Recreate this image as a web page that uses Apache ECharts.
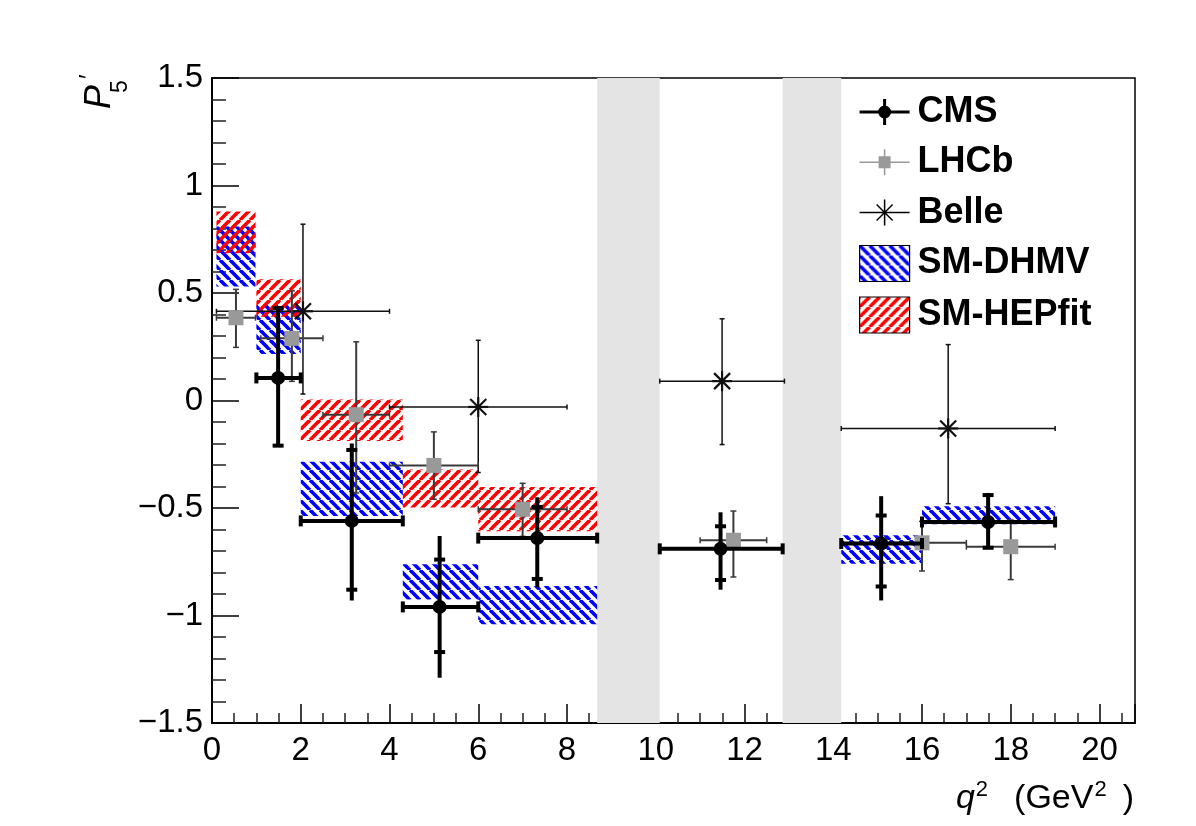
<!DOCTYPE html>
<html>
<head>
<meta charset="utf-8">
<script src="https://cdn.jsdelivr.net/npm/echarts@6/dist/echarts.min.js"></script>
<style>
  html, body { margin: 0; padding: 0; background: #fff; }
  #chart { width: 1196px; height: 826px; }
</style>
</head>
<body>
<div id="chart"></div>
<script>
// axis ranges
const xMin = 0, xMax = 20.8, yMin = -1.5, yMax = 1.5;
const xTicks = [0, 2, 4, 6, 8, 10, 12, 14, 16, 18, 20];

// resonance veto regions (grey bands)
const vetoLo = [8.68, 12.86];
const vetoHi = [10.09, 14.18];

// CMS
const cmsLo = [1, 2, 4.3, 6, 10.09, 14.18, 16];
const cmsHi = [2, 4.3, 6, 8.68, 12.86, 16, 19];
const cmsX = [1.49, 3.15, 5.13, 7.33, 11.46, 15.08, 17.49];
const cmsY = [0.105, -0.56, -0.96, -0.64, -0.69, -0.665, -0.565];
const cmsStatUp = [0.325, 0.33, 0.22, 0.145, 0.105, 0.13, 0.125];
const cmsStatDn = [0.315, 0.32, 0.21, 0.19, 0.145, 0.2, 0.12];
const cmsTotUp = [0.33, 0.36, 0.33, 0.19, 0.17, 0.22, 0.135];
const cmsTotDn = [0.32, 0.37, 0.33, 0.23, 0.19, 0.265, 0.125];

// LHCb
const lhcbLo = [0.1, 1.1, 2.5, 4, 6, 11, 15, 17];
const lhcbHi = [0.98, 2.5, 4, 6, 8, 12.5, 17, 19];
const lhcbY = [0.385, 0.289, -0.066, -0.302, -0.506, -0.65, -0.662, -0.68];
const lhcbUp = [0.132, 0.221, 0.339, 0.156, 0.121, 0.136, 0.1, 0.124];
const lhcbDn = [0.138, 0.2, 0.364, 0.157, 0.126, 0.171, 0.131, 0.153];

// Belle
const belleLo = [0.1, 4, 10.09, 14.18];
const belleHi = [4, 8, 12.9, 19];
const belleY = [0.415, -0.03, 0.09, -0.13];
const belleUp = [0.405, 0.31, 0.29, 0.39];
const belleDn = [0.385, 0.305, 0.295, 0.35];

// SM-DHMV
const dhmvLo = [0.1, 1, 2, 4.3, 6, 14.18, 16];
const dhmvHi = [0.98, 2, 4.3, 6, 8.68, 16, 19];
const dhmvMin = [0.53, 0.216, -0.537, -0.925, -1.041, -0.759, -0.576];
const dhmvMax = [0.809, 0.444, -0.285, -0.762, -0.863, -0.627, -0.492];

// SM-HEPfit
const hepLo = [0.1, 1, 2, 4.3, 6];
const hepHi = [0.98, 2, 4.3, 6, 8.68];
const hepMin = [0.685, 0.39, -0.188, -0.498, -0.608];
const hepMax = [0.879, 0.564, 0.005, -0.321, -0.402];

const FONT = '"Liberation Sans", Arial, Helvetica, sans-serif';

function hatch(color, back) {
    let c = document.createElement('canvas');
    c.width = 10;
    c.height = 10;
    let g = c.getContext('2d');
    g.strokeStyle = color;
    g.lineWidth = 3.6;
    for (let k = -10; k <= 10; k += 10) {
        g.beginPath();
        if (back) {
            g.moveTo(k, 0);
            g.lineTo(k + 10, 10);
        } else {
            g.moveTo(k, 10);
            g.lineTo(k + 10, 0);
        }
        g.stroke();
    }
    return {image: c, repeat: 'repeat'};
}

const blueHatch = hatch('#0000ff', true);
const redHatch = hatch('#ff0000', false);

function line(a, b, color, w) {
    return {type: 'line', shape: {x1: a[0], y1: a[1], x2: b[0], y2: b[1]},
        style: {stroke: color, lineWidth: w}};
}

function rect(cx, cy, w, h, color) {
    return {type: 'rect', shape: {x: cx - w / 2, y: cy - h / 2, width: w, height: h},
        style: {fill: color}};
}

function renderBand(params, api) {
    let a = api.coord([api.value(0), yMax]);
    let b = api.coord([api.value(1), yMin]);
    return {type: 'rect', shape: {x: a[0], y: a[1], width: b[0] - a[0], height: b[1] - a[1]},
        style: {fill: '#e4e4e4'}};
}

function boxRenderer(pattern) {
    return (params, api) => {
        let a = api.coord([api.value(0), api.value(3)]);
        let b = api.coord([api.value(1), api.value(2)]);
        return {type: 'rect', shape: {x: a[0], y: a[1], width: b[0] - a[0], height: b[1] - a[1]},
            style: {fill: pattern}};
    };
}

function renderCms(params, api) {
    let x = api.value(0), y = api.value(1);
    let p = api.coord([x, y]);
    let l = api.coord([api.value(2), y]);
    let r = api.coord([api.value(3), y]);
    let su = api.coord([x, y + api.value(4)]);
    let sd = api.coord([x, y - api.value(5)]);
    let tu = api.coord([x, y + api.value(6)]);
    let td = api.coord([x, y - api.value(7)]);
    return {type: 'group', children: [
        line(l, r, '#000', 4),
        line(tu, td, '#000', 4),
        rect(l[0], l[1], 4, 11, '#000'),
        rect(r[0], r[1], 4, 11, '#000'),
        rect(su[0], su[1], 11, 4, '#000'),
        rect(sd[0], sd[1], 11, 4, '#000'),
        {type: 'circle', shape: {cx: p[0], cy: p[1], r: 7}, style: {fill: '#000'}}
    ]};
}

function renderLhcb(params, api) {
    let x = (api.value(0) + api.value(1)) / 2, y = api.value(2);
    let p = api.coord([x, y]);
    let l = api.coord([api.value(0), y]);
    let r = api.coord([api.value(1), y]);
    let u = api.coord([x, y + api.value(3)]);
    let d = api.coord([x, y - api.value(4)]);
    let c = '#3a3a3a';
    return {type: 'group', children: [
        line(l, r, c, 2),
        line(u, d, c, 2),
        rect(l[0], l[1], 1.5, 6, c),
        rect(r[0], r[1], 1.5, 6, c),
        rect(u[0], u[1], 6, 1.5, c),
        rect(d[0], d[1], 6, 1.5, c),
        rect(p[0], p[1], 15, 15, '#999')
    ]};
}

function renderBelle(params, api) {
    let x = (api.value(0) + api.value(1)) / 2, y = api.value(2);
    let p = api.coord([x, y]);
    let l = api.coord([api.value(0), y]);
    let r = api.coord([api.value(1), y]);
    let u = api.coord([x, y + api.value(3)]);
    let d = api.coord([x, y - api.value(4)]);
    let c = '#111';
    let s = 10, q = 8;
    return {type: 'group', children: [
        line(l, r, c, 1.5),
        line(u, d, c, 1.5),
        rect(l[0], l[1], 1.5, 5, c),
        rect(r[0], r[1], 1.5, 5, c),
        rect(u[0], u[1], 5, 1.5, c),
        rect(d[0], d[1], 5, 1.5, c),
        line([p[0] - q, p[1] - q], [p[0] + q, p[1] + q], c, 2.2),
        line([p[0] - q, p[1] + q], [p[0] + q, p[1] - q], c, 2.2),
        line([p[0], p[1] - s], [p[0], p[1] + s], c, 2.2),
        line([p[0] - s, p[1]], [p[0] + s, p[1]], c, 2.2)
    ]};
}

function zip(...cols) {
    return cols[0].map((_, i) => cols.map(col => col[i]));
}

const ICON_CMS = 'path://M0,15.5H50V18.5H0Z M23.5,4H26.5V30H23.5Z M31.5,17A6.5,6.5,0,1,1,18.5,17A6.5,6.5,0,1,1,31.5,17Z';
const ICON_LHCB = 'path://M0,16.25H50V17.75H0Z M24.25,4H25.75V30H24.25Z M19,11H31V23H19Z';
const ICON_BELLE = 'path://M0,16.25H50V17.75H0Z M24.25,4H25.75V30H24.25Z ' +
    'M16.5,9.5L17.5,8.5L33.5,24.5L32.5,25.5Z M32.5,8.5L33.5,9.5L17.5,25.5L16.5,24.5Z';

window.onload = () => {
    let chart = echarts.init(document.getElementById('chart'));
    let option = {
        animation: false,
        backgroundColor: '#fff',
        grid: {
            left: 212, right: 61, top: 78, bottom: 103,
            show: true, borderColor: '#000', borderWidth: 1.5, backgroundColor: 'transparent'
        },
        xAxis: {
            type: 'value', min: xMin, max: xMax, interval: 2,
            axisLine: {onZero: false, lineStyle: {color: '#000', width: 2}},
            axisTick: {inside: true, length: 19, lineStyle: {color: '#000', width: 1.5}},
            minorTick: {show: true, splitNumber: 4, length: 10, lineStyle: {color: '#222', width: 1.5}},
            splitLine: {show: false},
            axisLabel: {
                margin: 11, fontSize: 33, color: '#000', fontFamily: FONT,
                formatter: v => (xTicks.indexOf(v) >= 0 ? String(v) : '')
            }
        },
        yAxis: {
            type: 'value', min: yMin, max: yMax, interval: 0.5,
            axisLine: {onZero: false, lineStyle: {color: '#000', width: 2}},
            axisTick: {inside: true, length: 27, lineStyle: {color: '#000', width: 1.5}},
            minorTick: {show: true, splitNumber: 5, length: 14, lineStyle: {color: '#222', width: 1.5}},
            splitLine: {show: false},
            axisLabel: {
                margin: 9, fontSize: 33, color: '#000', fontFamily: FONT,
                formatter: v => String(v).replace('-', '\u2212')
            }
        },
        legend: {
            orient: 'vertical', left: 859, top: 94, padding: 0,
            itemWidth: 50, itemHeight: 36, itemGap: 14.3,
            textStyle: {fontSize: 36, fontWeight: 'bold', color: '#000', fontFamily: FONT,
                lineHeight: 36, padding: [0, 0, 0, 3]},
            selectedMode: false,
            data: [
                {name: 'CMS', icon: ICON_CMS},
                {name: 'LHCb', icon: ICON_LHCB},
                {name: 'Belle', icon: ICON_BELLE},
                {name: 'SM-DHMV', icon: 'rect', itemStyle: {color: blueHatch, borderColor: '#000', borderWidth: 1.2}},
                {name: 'SM-HEPfit', icon: 'rect', itemStyle: {color: redHatch, borderColor: '#000', borderWidth: 1.2}}
            ]
        },
        series: [
            {
                name: 'veto', type: 'custom', z: 1, silent: true,
                renderItem: renderBand,
                data: zip(vetoLo, vetoHi)
            },
            {
                name: 'SM-DHMV', type: 'custom', z: 2, silent: true,
                itemStyle: {color: blueHatch},
                renderItem: boxRenderer(blueHatch),
                data: zip(dhmvLo, dhmvHi, dhmvMin, dhmvMax)
            },
            {
                name: 'SM-HEPfit', type: 'custom', z: 2, silent: true,
                itemStyle: {color: redHatch},
                renderItem: boxRenderer(redHatch),
                data: zip(hepLo, hepHi, hepMin, hepMax)
            },
            {
                name: 'Belle', type: 'custom', z: 3, silent: true,
                itemStyle: {color: '#000'},
                renderItem: renderBelle,
                data: zip(belleLo, belleHi, belleY, belleUp, belleDn)
            },
            {
                name: 'LHCb', type: 'custom', z: 4, silent: true,
                itemStyle: {color: '#999'},
                renderItem: renderLhcb,
                data: zip(lhcbLo, lhcbHi, lhcbY, lhcbUp, lhcbDn)
            },
            {
                name: 'CMS', type: 'custom', z: 5, silent: true,
                itemStyle: {color: '#000'},
                renderItem: renderCms,
                data: zip(cmsX, cmsY, cmsLo, cmsHi, cmsStatUp, cmsStatDn, cmsTotUp, cmsTotDn)
            }
        ],
        graphic: [
            {
                type: 'text', right: 62, top: 779,
                style: {
                    text: '{i|q}{s|2}{n|(GeV}{s|2}{c|)}',
                    fill: '#000', fontSize: 34, fontFamily: FONT,
                    rich: {
                        i: {fontSize: 34, fontStyle: 'italic', fontFamily: FONT, lineHeight: 40},
                        n: {fontSize: 34, fontFamily: FONT, lineHeight: 40, padding: [0, 0, 0, 26]},
                        c: {fontSize: 34, fontFamily: FONT, lineHeight: 40, padding: [0, 0, 0, 16]},
                        s: {fontSize: 22, fontFamily: FONT, lineHeight: 30, verticalAlign: 'top', padding: [0, 0, 0, 1]}
                    }
                }
            },
            {
                type: 'text', x: 100, y: 109, rotation: Math.PI / 2,
                style: {text: 'P', fill: '#000', font: 'italic 36px ' + FONT,
                    align: 'left', verticalAlign: 'middle'}
            },
            {
                type: 'text', x: 121, y: 93, rotation: Math.PI / 2,
                style: {text: '5', fill: '#000', font: '23px ' + FONT,
                    align: 'left', verticalAlign: 'middle'}
            },
            {
                type: 'text', x: 90, y: 79, rotation: Math.PI / 2,
                style: {text: '\u2032', fill: '#000', font: '26px ' + FONT,
                    align: 'left', verticalAlign: 'middle'}
            }
        ]
    };
    chart.setOption(option);
};
</script>
</body>
</html>
